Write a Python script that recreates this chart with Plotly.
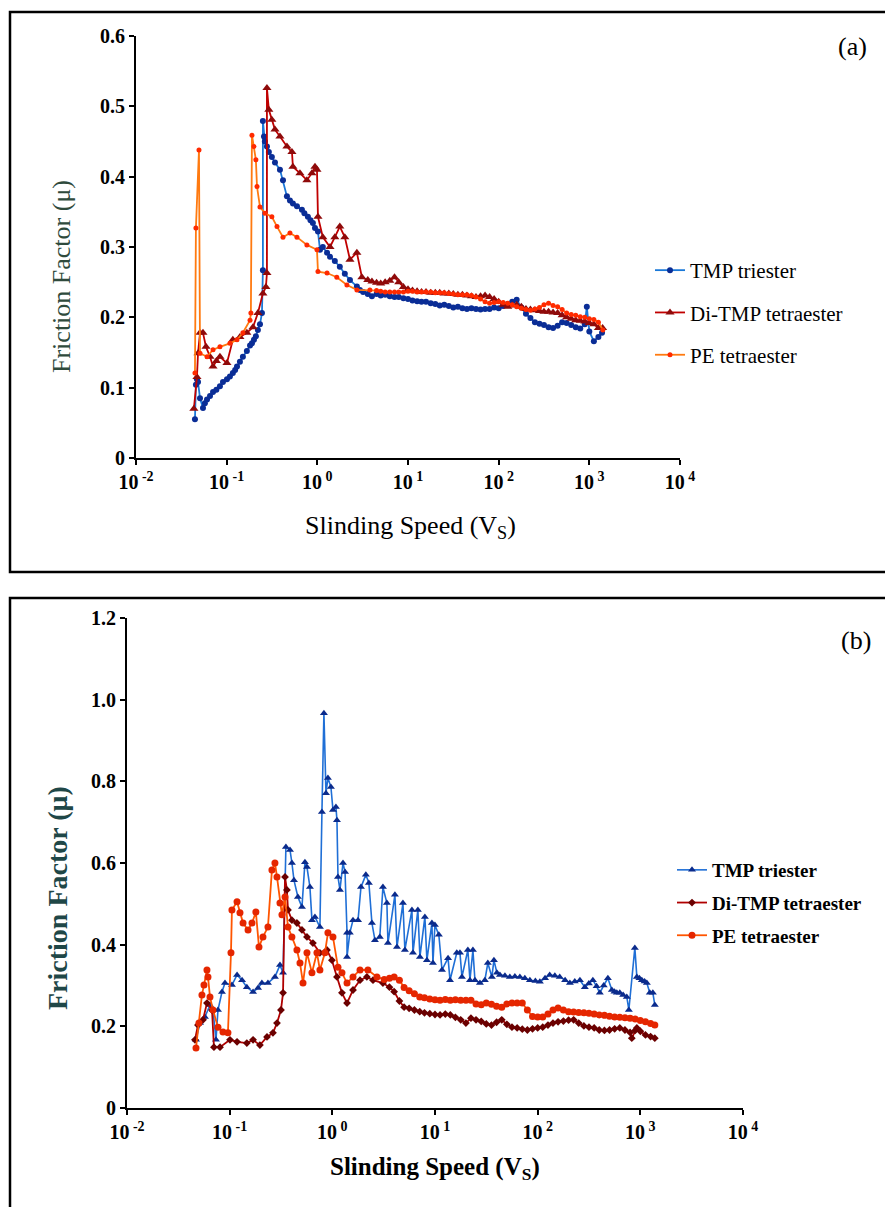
import plotly.graph_objects as go

# ---------------- Panel (a) data ----------------
a_tmp_x = [0.0447, 0.0458, 0.0470, 0.0483, 0.0508, 0.0548, 0.0575, 0.0607, 0.0655, 0.0707, 0.0770, 0.0843,
           0.0910, 0.1007, 0.1086, 0.117, 0.124, 0.130, 0.140, 0.151, 0.167, 0.181, 0.190, 0.200, 0.210,
           0.221, 0.233, 0.245, 0.251, 0.251, 0.258, 0.264, 0.278, 0.292, 0.315, 0.341, 0.387, 0.418, 0.462,
           0.499, 0.538, 0.596, 0.676, 0.720, 0.787, 0.840, 0.893, 0.942, 1.016, 1.07, 1.15, 1.28, 1.38,
           1.56, 1.77, 2.01, 2.29, 2.73, 2.95,
           3.2, 3.6, 4.0, 4.5, 5.0, 5.6, 6.3, 7.1, 7.9, 8.9, 10, 11.2, 12.6, 14.1, 15.8, 17.8, 20, 22.4, 25.1,
           28.2, 31.6, 35.5, 39.8, 44.7, 50.1, 56.2, 63.1, 70.8, 79.4, 89.1, 100, 112, 126, 141, 158, 178, 200,
           224, 251, 282, 316, 355, 398, 447, 501, 562, 631, 708, 794, 891, 938, 1000, 1122, 1259, 1380]
a_tmp_y = [0.055, 0.104, 0.112, 0.108, 0.085, 0.071, 0.078, 0.083, 0.088, 0.094, 0.097, 0.102,
           0.108, 0.112, 0.116, 0.121, 0.125, 0.130, 0.137, 0.144, 0.152, 0.160, 0.163, 0.168, 0.173,
           0.182, 0.190, 0.206, 0.267, 0.479, 0.457, 0.450, 0.443, 0.435, 0.428, 0.420, 0.410, 0.395, 0.372,
           0.366, 0.362, 0.358, 0.353, 0.348, 0.343, 0.338, 0.334, 0.327, 0.322, 0.296, 0.300, 0.292, 0.286,
           0.280, 0.272, 0.262, 0.253, 0.244, 0.239,
           0.236, 0.233, 0.230, 0.233, 0.231, 0.232, 0.230, 0.229, 0.229, 0.227, 0.226, 0.224, 0.223, 0.222, 0.222, 0.220, 0.219, 0.217, 0.218,
           0.216, 0.214, 0.215, 0.213, 0.212, 0.213, 0.212, 0.211, 0.212, 0.212, 0.214, 0.213, 0.216, 0.219, 0.222, 0.225, 0.214, 0.205,
           0.199, 0.193, 0.191, 0.189, 0.186, 0.185, 0.188, 0.193, 0.192, 0.189, 0.186, 0.184, 0.190, 0.215, 0.180, 0.166, 0.172, 0.178]

a_di_x = [0.0435, 0.0470, 0.0483, 0.0508, 0.0548, 0.0592, 0.0655, 0.0707, 0.0770, 0.0843, 0.1007, 0.117,
          0.140, 0.167, 0.195, 0.221, 0.251, 0.271, 0.278, 0.278, 0.292, 0.315, 0.341, 0.387, 0.462, 0.525,
          0.538, 0.643, 0.767, 0.871, 0.942, 0.991, 1.016, 1.15, 1.38, 1.56, 1.77, 2.01, 2.29, 2.73, 3.10,
          3.6, 4.0, 4.5, 5.0, 5.6, 6.3, 7.1, 7.9, 8.9, 10, 11.2, 12.6, 14.1, 15.8, 17.8, 20, 22.4, 25.1,
          28.2, 31.6, 35.5, 39.8, 44.7, 50.1, 56.2, 63.1, 70.8, 79.4, 89.1, 100, 112, 126, 141, 158, 178, 200,
          224, 251, 282, 316, 355, 398, 447, 501, 562, 631, 708, 794, 891, 1000, 1122, 1259, 1400]
a_di_y = [0.070, 0.115, 0.149, 0.178, 0.178, 0.158, 0.144, 0.130, 0.138, 0.144, 0.135, 0.168,
          0.172, 0.178, 0.186, 0.206, 0.234, 0.243, 0.263, 0.526, 0.495, 0.481, 0.467, 0.457, 0.443, 0.435,
          0.414, 0.405, 0.395, 0.405, 0.414, 0.410, 0.343, 0.314, 0.300, 0.314, 0.329, 0.314, 0.282, 0.292, 0.257,
          0.253, 0.251, 0.249, 0.248, 0.250, 0.252, 0.257, 0.250, 0.243, 0.240, 0.238, 0.237, 0.236, 0.236, 0.235, 0.235, 0.235, 0.234,
          0.234, 0.233, 0.232, 0.232, 0.231, 0.230, 0.229, 0.230, 0.231, 0.229, 0.226, 0.222, 0.218, 0.215, 0.217, 0.218, 0.215, 0.212,
          0.211, 0.210, 0.209, 0.208, 0.208, 0.207, 0.206, 0.203, 0.200, 0.198, 0.196, 0.195, 0.194, 0.192, 0.190, 0.185, 0.185]

a_pe_x = [0.0447, 0.0458, 0.0495, 0.0508, 0.0607, 0.0707, 0.0843, 0.1086, 0.130, 0.151, 0.181, 0.185,
          0.190, 0.200, 0.210, 0.216, 0.233, 0.264, 0.315, 0.359, 0.418, 0.499, 0.596, 0.767, 0.991, 1.016,
          1.28, 1.64, 2.12, 2.73,
          3.8, 4.5, 5.0, 5.6, 6.3, 7.1, 7.9, 8.9, 10, 11.2, 12.6, 14.1, 15.8, 17.8, 20, 22.4, 25.1,
          28.2, 31.6, 35.5, 39.8, 44.7, 50.1, 56.2, 63.1, 70.8, 79.4, 89.1, 100, 112, 126, 141, 158, 178, 200,
          224, 251, 282, 316, 355, 398, 447, 501, 562, 631, 708, 794, 891, 1000, 1122, 1259, 1409]
a_pe_y = [0.121, 0.327, 0.438, 0.149, 0.144, 0.154, 0.158, 0.163, 0.168, 0.178, 0.196, 0.206,
          0.459, 0.443, 0.424, 0.386, 0.357, 0.348, 0.343, 0.329, 0.314, 0.320, 0.314, 0.303, 0.296, 0.265,
          0.263, 0.257, 0.246, 0.239,
          0.239, 0.238, 0.237, 0.236, 0.236, 0.236, 0.236, 0.236, 0.237, 0.237, 0.236, 0.236, 0.236, 0.236, 0.235, 0.235, 0.235,
          0.234, 0.233, 0.232, 0.232, 0.232, 0.231, 0.229, 0.226, 0.222, 0.220, 0.221, 0.222, 0.221, 0.220, 0.218, 0.215, 0.213, 0.211,
          0.210, 0.212, 0.214, 0.218, 0.220, 0.217, 0.215, 0.211, 0.206, 0.204, 0.203, 0.201, 0.200, 0.198, 0.197, 0.193, 0.182]

# ---------------- Panel (b) data ----------------
b_tmp_x = [0.0470, 0.0514, 0.0574, 0.0643, 0.0688, 0.0736, 0.0769, 0.0841, 0.0900, 0.1052, 0.118, 0.132,
           0.147, 0.169, 0.189, 0.206, 0.236, 0.276, 0.309, 0.331, 0.353, 0.387, 0.404, 0.423, 0.462, 0.506,
           0.541, 0.566, 0.605, 0.633, 0.677, 0.757, 0.792, 0.828, 0.867, 0.906, 0.969, 1.014, 1.084, 1.109,
           1.135, 1.186, 1.27, 1.33, 1.39, 1.39, 1.48, 1.59, 1.78, 1.90, 2.12, 2.27, 2.43, 2.60, 2.90, 3.11,
           3.40, 3.48, 4.07, 4.26, 4.87, 5.09, 5.96, 6.10, 6.81, 7.13, 7.97, 8.34, 9.33, 9.55, 9.98, 10.9,
           11.7, 13.4, 14.0, 16.3, 17.5, 18.3, 20.9, 21.9, 23.4, 24.5, 27.4, 30.6, 32.7, 35.8, 37.5, 40.1,
           42.9, 48.0, 53.6, 60.0, 67.1, 75.0, 84.0, 95.0, 105, 118, 131, 147, 164, 185, 206, 230, 258, 288,
           315, 345, 375, 403, 440, 483, 528, 560, 590, 631, 680, 738, 773,
           884, 925, 980, 1035, 1100, 1157, 1237, 1324, 1384]
b_tmp_y = [0.167, 0.208, 0.223, 0.252, 0.240, 0.167, 0.240, 0.284, 0.306, 0.301, 0.326, 0.313,
           0.296, 0.284, 0.294, 0.306, 0.306, 0.321, 0.350, 0.331, 0.639, 0.632, 0.600, 0.558, 0.517, 0.492,
           0.602, 0.590, 0.541, 0.460, 0.468, 0.443, 0.725, 0.967, 0.771, 0.808, 0.786, 0.730, 0.737, 0.705,
           0.566, 0.534, 0.600, 0.578, 0.429, 0.370, 0.429, 0.460, 0.460, 0.541, 0.571, 0.551, 0.453, 0.411, 0.419, 0.541,
           0.502, 0.404, 0.522, 0.394, 0.502, 0.387, 0.485, 0.380, 0.485, 0.370, 0.468, 0.362, 0.453, 0.355, 0.448, 0.424,
           0.338, 0.367, 0.313, 0.380, 0.380, 0.321, 0.387, 0.313, 0.387, 0.313, 0.306, 0.313, 0.355, 0.321, 0.362, 0.331,
           0.326, 0.324, 0.321, 0.322, 0.321, 0.318, 0.313, 0.311, 0.309, 0.318, 0.326, 0.324, 0.321, 0.313, 0.306, 0.310, 0.313, 0.296,
           0.305, 0.313, 0.298, 0.282, 0.300, 0.318, 0.289, 0.285, 0.282, 0.282, 0.277, 0.272, 0.240,
           0.392, 0.321, 0.318, 0.313, 0.310, 0.306, 0.282, 0.282, 0.252]

b_di_x = [0.0459, 0.0491, 0.0550, 0.0601, 0.0673, 0.0703, 0.0805, 0.1007, 0.118, 0.147, 0.169, 0.197,
          0.231, 0.264, 0.289, 0.316, 0.331, 0.346, 0.361, 0.370, 0.404, 0.452, 0.506, 0.566, 0.647, 0.757,
          0.886, 0.991, 1.109, 1.241, 1.39, 1.59, 1.86, 2.17, 2.49, 3.11,
          3.6, 4.0, 4.5, 5.0, 5.6, 6.3, 7.1, 7.9, 8.9, 10, 11.2, 12.6, 14.1, 15.8, 17.8, 20, 22.4, 25.1,
          28.2, 31.6, 35.5, 39.8, 44.7, 50.1, 56.2, 63.1, 70.8, 79.4, 89.1, 100, 112, 126, 141, 158, 178, 200,
          224, 251, 282, 316, 355, 398, 447, 501, 562, 631, 708, 794, 826, 891, 925, 1000, 1122, 1259, 1384]
b_di_y = [0.167, 0.203, 0.216, 0.257, 0.240, 0.149, 0.149, 0.167, 0.162, 0.159, 0.167, 0.154,
          0.174, 0.184, 0.208, 0.240, 0.282, 0.566, 0.534, 0.485, 0.460, 0.453, 0.436, 0.419, 0.404, 0.380,
          0.387, 0.362, 0.321, 0.282, 0.257, 0.289, 0.313, 0.321, 0.313, 0.306,
          0.296, 0.285, 0.262, 0.247, 0.244, 0.240, 0.236, 0.233, 0.231, 0.229, 0.228, 0.230, 0.228, 0.222, 0.216, 0.208, 0.220, 0.216,
          0.212, 0.206, 0.203, 0.210, 0.216, 0.205, 0.198, 0.196, 0.193, 0.191, 0.194, 0.196, 0.198, 0.203, 0.208, 0.211, 0.213, 0.215,
          0.216, 0.208, 0.201, 0.198, 0.196, 0.191, 0.190, 0.191, 0.194, 0.196, 0.191, 0.185, 0.171, 0.190, 0.196, 0.188, 0.179, 0.175, 0.171]

b_pe_x = [0.0470, 0.0502, 0.0537, 0.0562, 0.0601, 0.0615, 0.0643, 0.0688, 0.0769, 0.0861, 0.0962, 0.1030,
          0.1052, 0.118, 0.126, 0.135, 0.151, 0.165, 0.180, 0.193, 0.211, 0.236, 0.258, 0.276, 0.289, 0.309,
          0.323, 0.346, 0.370, 0.404, 0.452, 0.484, 0.518, 0.566, 0.633, 0.708, 0.757, 0.847, 0.906, 1.014,
          1.135, 1.241, 1.39, 1.59, 1.86, 2.22, 2.72,
          3.2, 3.6, 4.0, 4.5, 5.0, 5.6, 6.3, 7.1, 7.9, 8.9, 10, 11.2, 12.6, 14.1, 15.8, 17.8, 20, 22.4, 25.1,
          28.2, 31.6, 35.5, 39.8, 44.7, 50.1, 56.2, 63.1, 70.8, 79.4, 89.1, 100, 112, 126, 141, 158, 178, 200,
          224, 251, 282, 316, 355, 398, 447, 501, 562, 631, 708, 794, 891, 1000, 1122, 1259, 1384]
b_pe_y = [0.147, 0.208, 0.277, 0.301, 0.338, 0.321, 0.272, 0.240, 0.198, 0.186, 0.184, 0.380,
          0.485, 0.505, 0.478, 0.453, 0.436, 0.453, 0.480, 0.394, 0.419, 0.443, 0.583, 0.600, 0.566, 0.502,
          0.473, 0.517, 0.443, 0.419, 0.387, 0.355, 0.306, 0.380, 0.331, 0.380, 0.338, 0.380, 0.429, 0.419,
          0.345, 0.331, 0.306, 0.321, 0.338, 0.338, 0.321,
          0.315, 0.318, 0.321, 0.313, 0.295, 0.287, 0.280, 0.272, 0.270, 0.267, 0.265, 0.264, 0.266, 0.264, 0.265, 0.264, 0.264, 0.264, 0.255,
          0.253, 0.257, 0.254, 0.249, 0.247, 0.255, 0.257, 0.257, 0.257, 0.240, 0.224, 0.223, 0.223, 0.230, 0.240, 0.245, 0.240, 0.236,
          0.235, 0.234, 0.233, 0.232, 0.230, 0.228, 0.227, 0.225, 0.223, 0.222, 0.221, 0.220, 0.218, 0.214, 0.211, 0.207, 0.203]

series_names = ["TMP triester", "Di-TMP tetraester", "PE tetraester"]
x_tickvals = [0.01, 0.1, 1, 10, 100, 1000, 10000]
x_ticktext = ["<b>10<sup> -2</sup></b>", "<b>10<sup> -1</sup></b>", "<b>10<sup> 0</sup></b>",
              "<b>10<sup> 1</sup></b>", "<b>10<sup> 2</sup></b>", "<b>10<sup> 3</sup></b>", "<b>10<sup> 4</sup></b>"]
a_ytickvals = [0, 0.1, 0.2, 0.3, 0.4, 0.5, 0.6]
a_yticktext = ["<b>0</b>", "<b>0.1</b>", "<b>0.2</b>", "<b>0.3</b>", "<b>0.4</b>", "<b>0.5</b>", "<b>0.6</b>"]
b_ytickvals = [0, 0.2, 0.4, 0.6, 0.8, 1.0, 1.2]
b_yticktext = ["<b>0</b>", "<b>0.2</b>", "<b>0.4</b>", "<b>0.6</b>", "<b>0.8</b>", "<b>1.0</b>", "<b>1.2</b>"]

W, H = 885, 1207
def px(x): return x / W
def py(y): return 1 - y / H

SERIF = "Liberation Serif, Times New Roman, Times, serif"

fig = go.Figure()

# Panel (a) traces
fig.add_trace(go.Scatter(x=a_tmp_x, y=a_tmp_y, name=series_names[0], mode="lines+markers",
                         line=dict(color="#1a78d8", width=1.8),
                         marker=dict(symbol="circle", size=6, color="#0a2d96"),
                         xaxis="x", yaxis="y", legend="legend", legendgroup="a1"))
fig.add_trace(go.Scatter(x=a_di_x, y=a_di_y, name=series_names[1], mode="lines+markers",
                         line=dict(color="#c00000", width=1.8),
                         marker=dict(symbol="triangle-up", size=8, color="#8f0a0a"),
                         xaxis="x", yaxis="y", legend="legend", legendgroup="a2"))
fig.add_trace(go.Scatter(x=a_pe_x, y=a_pe_y, name=series_names[2], mode="lines+markers",
                         line=dict(color="#ff7a10", width=1.8),
                         marker=dict(symbol="circle", size=5, color="#ff2a00"),
                         xaxis="x", yaxis="y", legend="legend", legendgroup="a3"))

# Panel (b) traces
fig.add_trace(go.Scatter(x=b_tmp_x, y=b_tmp_y, name="<b>" + series_names[0] + "</b>", mode="lines+markers",
                         line=dict(color="#1f6fd6", width=1.6),
                         marker=dict(symbol="triangle-up", size=7, color="#0b2b8c"),
                         xaxis="x2", yaxis="y2", legend="legend2", legendgroup="b1"))
fig.add_trace(go.Scatter(x=b_di_x, y=b_di_y, name="<b>" + series_names[1] + "</b>", mode="lines+markers",
                         line=dict(color="#b00000", width=1.8),
                         marker=dict(symbol="diamond", size=6, color="#6b0000"),
                         xaxis="x2", yaxis="y2", legend="legend2", legendgroup="b2"))
fig.add_trace(go.Scatter(x=b_pe_x, y=b_pe_y, name="<b>" + series_names[2] + "</b>", mode="lines+markers",
                         line=dict(color="#ff5500", width=1.8),
                         marker=dict(symbol="circle", size=7, color="#e52600"),
                         xaxis="x2", yaxis="y2", legend="legend2", legendgroup="b3"))

axis_common = dict(showline=True, linecolor="black", linewidth=2, ticks="outside",
                   ticklen=5, tickwidth=2, tickcolor="black", showgrid=False, zeroline=False,
                   tickfont=dict(family=SERIF, size=20, color="black"))

fig.update_layout(
    width=W, height=H,
    margin=dict(l=0, r=0, t=0, b=0, autoexpand=False),
    paper_bgcolor="white", plot_bgcolor="white",
    font=dict(family=SERIF, color="black"),
    xaxis=dict(type="log", range=[-2, 4], domain=[px(136), px(680)], anchor="y",
               tickvals=x_tickvals, ticktext=x_ticktext, **axis_common),
    yaxis=dict(range=[0, 0.6], domain=[py(458), py(36)], anchor="x",
               tickvals=a_ytickvals, ticktext=a_yticktext, **axis_common),
    xaxis2=dict(type="log", range=[-2, 4], domain=[px(127), px(743)], anchor="y2",
                tickvals=x_tickvals, ticktext=x_ticktext, **axis_common),
    yaxis2=dict(range=[0, 1.2], domain=[py(1108), py(618)], anchor="x2",
                tickvals=b_ytickvals, ticktext=b_yticktext, **axis_common),
    legend=dict(x=px(650), y=py(250), xanchor="left", yanchor="top", bgcolor="rgba(0,0,0,0)",
                font=dict(family=SERIF, size=21, color="black"), tracegroupgap=12),
    legend2=dict(x=px(672), y=py(851), xanchor="left", yanchor="top", bgcolor="rgba(0,0,0,0)",
                 font=dict(family=SERIF, size=19, color="black"), tracegroupgap=5),
    showlegend=True,
)

# Frames
fig.add_shape(type="rect", xref="paper", yref="paper", x0=px(10), x1=1.02, y0=py(572), y1=py(12),
              line=dict(color="black", width=2.5), fillcolor="rgba(0,0,0,0)", layer="below")
fig.add_shape(type="rect", xref="paper", yref="paper", x0=px(10), x1=1.02, y0=-0.02, y1=py(598),
              line=dict(color="black", width=2.5), fillcolor="rgba(0,0,0,0)", layer="below")

# Annotations (titles and panel labels)
def note(text, x, y, size, color="black", angle=0):
    fig.add_annotation(text=text, xref="paper", yref="paper", x=px(x), y=py(y), showarrow=False,
                       xanchor="center", yanchor="middle", textangle=angle,
                       font=dict(family=SERIF, size=size, color=color))

note("Slinding Speed (V<sub>S</sub>)", 410, 527, 26)
note("Friction Factor (\u03bc)", 61, 277, 26, "#2f4a3c", -90)
note("(a)", 852, 47, 26)
note("<b>Slinding Speed (V<sub>S</sub>)</b>", 435, 1168, 25)
note("<b>Friction Factor (\u03bc)</b>", 57, 898, 28, "#1f4747", -90)
note("(b)", 856, 640, 26)

fig.write_html("out.html")
